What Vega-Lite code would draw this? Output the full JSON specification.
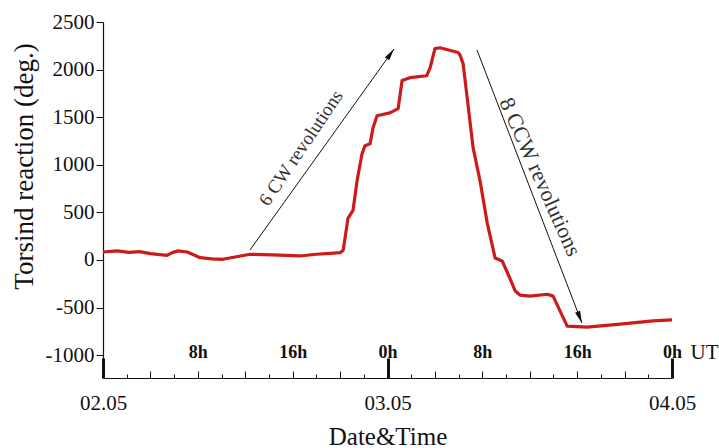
{
  "$schema": "https://vega.github.io/schema/vega-lite/v6.json",
  "width": 569,
  "height": 356,
  "autosize": {"type": "none"},
  "padding": {"left": 103, "top": 22, "right": 47, "bottom": 70},
  "background": "white",
  "config": {
    "view": {"stroke": null},
    "font": "Liberation Serif",
    "axis": {
      "labelFont": "Liberation Serif",
      "titleFont": "Liberation Serif",
      "labelColor": "#111",
      "titleColor": "#111",
      "domainColor": "#111",
      "tickColor": "#111",
      "grid": false,
      "titleFontWeight": "normal"
    }
  },
  "datasets": {
    "torsion": [
      {"hour": 0, "value": 84}, {"hour": 1.2, "value": 95}, {"hour": 2.2, "value": 80},
      {"hour": 3.1, "value": 88}, {"hour": 4.0, "value": 66}, {"hour": 5.4, "value": 49},
      {"hour": 5.9, "value": 80}, {"hour": 6.3, "value": 95}, {"hour": 7.1, "value": 84},
      {"hour": 8.2, "value": 24}, {"hour": 9.2, "value": 12}, {"hour": 10.1, "value": 7},
      {"hour": 11.6, "value": 42}, {"hour": 12.4, "value": 60}, {"hour": 14.3, "value": 53},
      {"hour": 16.6, "value": 42}, {"hour": 18.0, "value": 60}, {"hour": 19.2, "value": 70},
      {"hour": 20.0, "value": 77}, {"hour": 20.25, "value": 100}, {"hour": 20.42, "value": 230},
      {"hour": 20.67, "value": 440}, {"hour": 21.09, "value": 520}, {"hour": 21.43, "value": 830},
      {"hour": 21.85, "value": 1115}, {"hour": 22.1, "value": 1200}, {"hour": 22.53, "value": 1220},
      {"hour": 22.78, "value": 1390}, {"hour": 23.12, "value": 1515}, {"hour": 24.2, "value": 1545},
      {"hour": 24.9, "value": 1590}, {"hour": 25.23, "value": 1885}, {"hour": 25.9, "value": 1915},
      {"hour": 27.3, "value": 1935}, {"hour": 27.6, "value": 2020}, {"hour": 28.0, "value": 2220},
      {"hour": 28.44, "value": 2230}, {"hour": 29.96, "value": 2180}, {"hour": 30.13, "value": 2150},
      {"hour": 30.38, "value": 2060}, {"hour": 30.72, "value": 1705}, {"hour": 31.22, "value": 1180},
      {"hour": 31.81, "value": 830}, {"hour": 32.41, "value": 390}, {"hour": 33.08, "value": 20},
      {"hour": 33.67, "value": -10}, {"hour": 34.18, "value": -150}, {"hour": 34.77, "value": -325},
      {"hour": 35.2, "value": -370}, {"hour": 36.03, "value": -380}, {"hour": 37.47, "value": -360},
      {"hour": 37.97, "value": -380}, {"hour": 38.56, "value": -537}, {"hour": 39.16, "value": -695},
      {"hour": 40.84, "value": -705}, {"hour": 43.62, "value": -675}, {"hour": 46.4, "value": -640},
      {"hour": 48, "value": -630}
    ]
  },
  "data": {"name": "torsion"},
  "layer": [
    {
      "mark": {"type": "line", "color": "#cc1b1b", "strokeWidth": 3.2, "strokeJoin": "round"},
      "encoding": {
        "x": {
          "field": "hour", "type": "quantitative",
          "scale": {"domain": [0, 48], "nice": false, "zero": false},
          "axis": {
            "orient": "bottom", "values": [0, 24, 48],
            "labelExpr": "datum.value == 0 ? '02.05' : datum.value == 24 ? '03.05' : '04.05'",
            "ticks": false, "labelFlush": false, "labelOverlap": false,
            "labelFontSize": 21, "labelPadding": 25, "labelBaseline": "middle",
            "domainWidth": 1.2,
            "title": "Date&Time", "titleFontSize": 25, "titleY": 66, "titleBaseline": "alphabetic"
          }
        },
        "y": {
          "field": "value", "type": "quantitative",
          "scale": {"domain": [-1240, 2500], "nice": false, "zero": false},
          "axis": {
            "orient": "left",
            "values": [-1000, -500, 0, 500, 1000, 1500, 2000, 2500],
            "labelExpr": "'' + datum.value",
            "tickSize": 7, "labelPadding": 2, "labelFontSize": 21, "labelOverlap": false,
            "domainWidth": 1.2,
            "title": "Torsind reaction (deg.)", "titleFontSize": 27,
            "titleX": -79, "titleY": 144, "titleAngle": -90,
            "titleAlign": "center", "titleBaseline": "middle"
          }
        }
      }
    },
    {
      "mark": {"type": "point", "opacity": 0},
      "encoding": {
        "x": {"field": "hour", "type": "quantitative",
          "axis": {"orient": "bottom", "values": [0, 24, 48], "labels": false, "domain": false,
                   "tickSize": -20, "tickWidth": 3, "title": null}}
      }
    },
    {
      "mark": {"type": "point", "opacity": 0},
      "encoding": {
        "x": {"field": "hour", "type": "quantitative",
          "axis": {"orient": "bottom", "values": [4, 8, 12, 16, 20, 28, 32, 36, 40, 44], "labels": false, "domain": false,
                   "tickSize": -7, "tickWidth": 1, "title": null}}
      }
    },
    {
      "mark": {"type": "point", "opacity": 0},
      "encoding": {
        "x": {"field": "hour", "type": "quantitative",
          "axis": {"orient": "bottom", "values": [2, 6, 10, 14, 18, 22, 26, 30, 34, 38, 42, 46], "labels": false, "domain": false,
                   "tickSize": -4, "tickWidth": 1, "title": null}}
      }
    },
    {
      "mark": {"type": "point", "opacity": 0},
      "encoding": {
        "x": {"field": "hour", "type": "quantitative",
          "axis": {"orient": "bottom", "values": [8, 16, 24, 32, 40, 48],
                   "labelExpr": "datum.value % 24 == 0 ? '0h' : (datum.value % 24) + 'h'",
                   "ticks": false, "domain": false, "labelFlush": false, "labelOverlap": false,
                   "labelPadding": -26, "labelBaseline": "middle", "labelFontSize": 18, "labelFontWeight": "bold",
                   "title": null}}
      }
    },
    {
      "mark": {"type": "point", "opacity": 0},
      "encoding": {
        "x": {"field": "hour", "type": "quantitative",
          "axis": {"orient": "bottom", "values": [48], "labelExpr": "'UT'",
                   "ticks": false, "domain": false, "labelFlush": false, "labelOverlap": false, "labelBound": false,
                   "labelAlign": "left", "labelOffset": 18,
                   "labelPadding": -26, "labelBaseline": "middle", "labelFontSize": 21,
                   "title": null}}
      }
    },
    {
      "data": {"values": [
        {"hour": 12.4, "value": 105, "hour2": 24.55, "value2": 2216},
        {"hour": 31.55, "value": 2206, "hour2": 40.4, "value2": -662}
      ]},
      "mark": {"type": "rule", "color": "#111", "strokeWidth": 1},
      "encoding": {
        "x": {"field": "hour", "type": "quantitative", "axis": null},
        "y": {"field": "value", "type": "quantitative", "axis": null},
        "x2": {"field": "hour2"},
        "y2": {"field": "value2"}
      }
    },
    {
      "data": {"values": [{"hour": 24.55, "value": 2216}]},
      "mark": {"type": "point", "shape": "M0,0L0.45,2L-0.45,2Z", "size": 144, "filled": true, "color": "#111", "opacity": 1, "angle": 35.6},
      "encoding": {
        "x": {"field": "hour", "type": "quantitative", "axis": null},
        "y": {"field": "value", "type": "quantitative", "axis": null}
      }
    },
    {
      "data": {"values": [{"hour": 40.4, "value": -662}]},
      "mark": {"type": "point", "shape": "M0,0L0.45,2L-0.45,2Z", "size": 144, "filled": true, "color": "#111", "opacity": 1, "angle": 159},
      "encoding": {
        "x": {"field": "hour", "type": "quantitative", "axis": null},
        "y": {"field": "value", "type": "quantitative", "axis": null}
      }
    },
    {
      "data": {"values": [{"hour": 16.7, "value": 1176, "label": "6 CW revolutions"}]},
      "mark": {"type": "text", "angle": -56, "fontSize": 19, "font": "Liberation Serif", "color": "#333", "align": "center", "baseline": "middle"},
      "encoding": {
        "x": {"field": "hour", "type": "quantitative", "axis": null},
        "y": {"field": "value", "type": "quantitative", "axis": null},
        "text": {"field": "label"}
      }
    },
    {
      "data": {"values": [{"hour": 36.87, "value": 872, "label": "8 CCW revolutions"}]},
      "mark": {"type": "text", "angle": 66, "fontSize": 22, "font": "Liberation Serif", "color": "#333", "align": "center", "baseline": "middle"},
      "encoding": {
        "x": {"field": "hour", "type": "quantitative", "axis": null},
        "y": {"field": "value", "type": "quantitative", "axis": null},
        "text": {"field": "label"}
      }
    }
  ],
  "resolve": {"axis": {"x": "independent", "y": "independent"}}
}
